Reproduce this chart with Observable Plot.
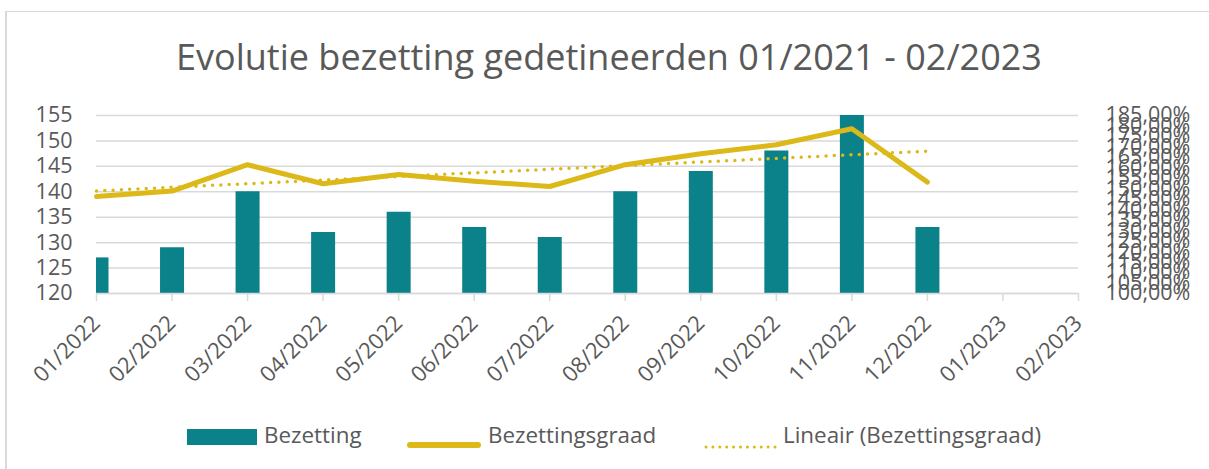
<!DOCTYPE html>
<html>
<head>
<meta charset="utf-8">
<script src="https://cdn.jsdelivr.net/npm/d3@7"></script>
<script src="https://cdn.jsdelivr.net/npm/@observablehq/plot@0.6"></script>
<style>
  html, body { margin: 0; padding: 0; background: #fff; }
  body { width: 1209px; height: 469px; position: relative; overflow: hidden; font-family: "Open Sans", sans-serif; color: #595959; }
  #frame { position: absolute; left: 5px; top: 11px; width: 1202px; height: 470px; border-left: 2px solid #d9d9d9; border-top: 1px solid #d9d9d9; border-right: 1px solid #f0f0f0; }
  #title { position: absolute; left: 0; width: 1218px; top: 32px; text-align: center; font-size: 36px; line-height: 50px; color: #595959; }
  #chart { position: absolute; left: 0; top: 90px; }
  .leg { position: absolute; top: 421px; font-size: 22.4px; line-height: 28px; color: #595959; white-space: nowrap; }
  .sw { position: absolute; }
</style>
</head>
<body>
<div id="frame"></div>
<div id="title">Evolutie bezetting gedetineerden 01/2021 - 02/2023</div>
<div id="chart"></div>
<div id="legend"></div>
<script>
const months = ["01/2022","02/2022","03/2022","04/2022","05/2022","06/2022","07/2022","08/2022","09/2022","10/2022","11/2022","12/2022","01/2023","02/2023"];
const bezetting = [127,129,140,132,136,133,131,140,144,148,155,133];
const bezettingsgraad = [146.3,148.9,161.5,152.4,156.8,153.6,151.1,161.5,166.7,171.0,178.7,153.2];
const leftTicks = [120,125,130,135,140,145,150,155];
const rightTicks = [100,105,110,115,120,125,130,135,140,145,150,155,160,165,170,175,180,185];
const seriesNames = ["Bezetting","Bezettingsgraad","Lineair (Bezettingsgraad)"];

const teal = "#0b818a";
const gold = "#dcb818";
const grid = "#d9d9d9";
const font = "Open Sans, sans-serif";

// right axis (percent) mapped onto left scale
const toLeft = p => 120 + (p - 100) * (155 - 120) / (185 - 100);
const fromLeft = v => 100 + (v - 120) * (185 - 100) / (155 - 120);
const pctFmt = v => Math.round(fromLeft(v)).toFixed(2).replace(".", ",") + "%";

const data = bezetting.map((v, i) => ({i, month: months[i], bezetting: v, graad: bezettingsgraad[i]}));

const chart = Plot.plot({
  width: 1209,
  height: 320,
  marginTop: 25,
  marginBottom: 117,
  marginLeft: 96,
  marginRight: 131,
  x: {type: "linear", domain: [0, months.length - 1], label: null},
  y: {domain: [120, 155], label: null},
  style: {fontFamily: font, fontSize: "21.5px", color: "#595959", background: "transparent"},
  marks: [
    Plot.gridY(leftTicks, {stroke: grid, strokeOpacity: 1, strokeWidth: 1.5}),
    Plot.ruleX(data, {x: "i", y1: 120, y2: "bezetting", stroke: teal, strokeWidth: 24, clip: true}),
    Plot.ruleY([120], {stroke: grid, strokeWidth: 1.5}),
    Plot.linearRegressionY(data, {x: "i", y: d => toLeft(d.graad), ci: 0, stroke: gold, strokeWidth: 3.5, strokeDasharray: "0 8.3", strokeLinecap: "round"}),
    Plot.line(data, {x: "i", y: d => toLeft(d.graad), stroke: gold, strokeWidth: 5, strokeLinejoin: "round", strokeLinecap: "round"}),
    Plot.axisY(leftTicks, {anchor: "left", tickSize: 0, tickPadding: 24, fill: "#595959"}),
    Plot.axisY(rightTicks.map(toLeft), {anchor: "right", tickSize: 0, tickPadding: 27, fill: "#595959", tickFormat: pctFmt}),
    Plot.axisX(d3.range(months.length), {anchor: "bottom", tickSize: 8, stroke: grid, strokeWidth: 1.5, strokeOpacity: 1, tickRotate: -45, tickPadding: 18, fontSize: 22, fill: "#595959", tickFormat: i => months[i]})
  ]
});
document.getElementById("chart").appendChild(chart);

// legend
const legend = document.getElementById("legend");
const items = [
  {x: 187, tx: 264, sw: `<svg width="70" height="16"><rect x="0" y="0" width="70" height="16" fill="${teal}"/></svg>`, top: 428},
  {x: 406, tx: 488, sw: `<svg width="76" height="8"><line x1="4" y1="4" x2="72" y2="4" stroke="${gold}" stroke-width="6" stroke-linecap="round"/></svg>`, top: 432},
  {x: 704, tx: 783, sw: `<svg width="74" height="6"><line x1="2" y1="3" x2="72" y2="3" stroke="${gold}" stroke-width="3" stroke-dasharray="0 6.9" stroke-linecap="round"/></svg>`, top: 433}
];
items.forEach((it, k) => {
  const s = document.createElement("div");
  s.className = "sw";
  s.style.left = it.x + "px";
  s.style.top = it.top + "px";
  s.innerHTML = it.sw;
  legend.appendChild(s);
  const t = document.createElement("div");
  t.className = "leg";
  t.style.left = it.tx + "px";
  t.textContent = seriesNames[k];
  legend.appendChild(t);
});
</script>
</body>
</html>
